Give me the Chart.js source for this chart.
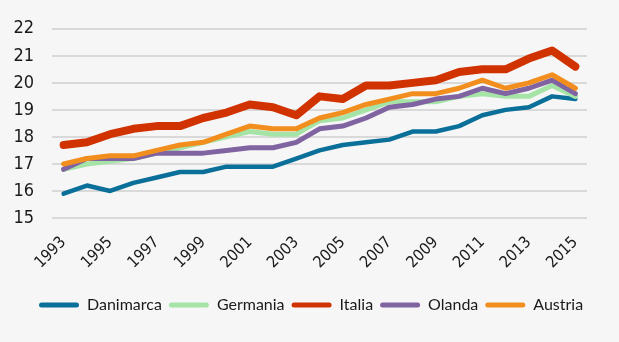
<!DOCTYPE html>
<html>
<head>
<meta charset="utf-8">
<script src="https://cdn.jsdelivr.net/npm/chart.js@4/dist/chart.umd.min.js"></script>
<style>
  html, body { margin: 0; padding: 0; background: #f6f6f6; }
  #wrap { width: 619px; height: 342px; position: relative; }
</style>
</head>
<body>
<div id="wrap"><canvas id="c" width="619" height="342"></canvas></div>
<script>
const years = ['1993','1994','1995','1996','1997','1998','1999','2000','2001','2002','2003','2004','2005','2006','2007','2008','2009','2010','2011','2012','2013','2014','2015'];
const danimarca = [15.9,16.2,16.0,16.3,16.5,16.7,16.7,16.9,16.9,16.9,17.2,17.5,17.7,17.8,17.9,18.2,18.2,18.4,18.8,19.0,19.1,19.5,19.4];
const germania  = [16.8,17.0,17.1,17.2,17.4,17.6,17.8,18.0,18.2,18.1,18.1,18.6,18.7,19.0,19.3,19.3,19.3,19.5,19.6,19.5,19.5,19.9,19.5];
const italia    = [17.7,17.8,18.1,18.3,18.4,18.4,18.7,18.9,19.2,19.1,18.8,19.5,19.4,19.9,19.9,20.0,20.1,20.4,20.5,20.5,20.9,21.2,20.6];
const olanda    = [16.8,17.2,17.2,17.2,17.4,17.4,17.4,17.5,17.6,17.6,17.8,18.3,18.4,18.7,19.1,19.2,19.4,19.5,19.8,19.6,19.8,20.1,19.6];
const austria   = [17.0,17.2,17.3,17.3,17.5,17.7,17.8,18.1,18.4,18.3,18.3,18.7,18.9,19.2,19.4,19.6,19.6,19.8,20.1,19.8,20.0,20.3,19.8];
const yTicks = [15,16,17,18,19,20,21,22];

const FONT = "'Liberation Sans Narrow', 'DejaVu Sans Condensed', sans-serif";
const LFONT = "Lato, 'Liberation Sans', sans-serif";

function ds(label, data, color, width, order) {
  return {
    label, data, borderColor: color, backgroundColor: color,
    borderWidth: width, pointRadius: 0, tension: 0, fill: false,
    borderCapStyle: 'round', borderJoinStyle: 'round', order
  };
}

const shiftLegend = {
  id: 'shiftLegend',
  afterLayout(chart) {
    const lg = chart.legend;
    if (lg) { lg.left += 18; lg.right += 18; }
  }
};

new Chart(document.getElementById('c'), {
  type: 'line',
  data: {
    labels: years,
    datasets: [
      ds('Danimarca', danimarca, '#0a6f99', 4.5, 4),
      ds('Germania', germania, '#a6e3a6', 5, 3),
      ds('Italia', italia, '#d03200', 8, 0),
      ds('Olanda', olanda, '#8064a2', 5, 2),
      ds('Austria', austria, '#f28e1e', 5, 1)
    ]
  },
  plugins: [shiftLegend],
  options: {
    responsive: false,
    animation: false,
    devicePixelRatio: 1,
    layout: { padding: { left: 14, right: 32, top: 18, bottom: 19 } },
    plugins: {
      legend: {
        position: 'bottom',
        align: 'start',
        labels: {
          font: { family: LFONT, size: 16 },
          color: '#1a1a1a',
          boxWidth: 40,
          boxHeight: 5,
          padding: 7,
          useBorderRadius: true,
          borderRadius: 2.5,
          sort: (a, b) => a.datasetIndex - b.datasetIndex,
          generateLabels: (chart) => {
            const items = Chart.defaults.plugins.legend.labels.generateLabels(chart);
            items.forEach(it => { it.lineWidth = 0; it.strokeStyle = 'rgba(0,0,0,0)'; });
            return items;
          }
        }
      },
      tooltip: { enabled: false }
    },
    scales: {
      x: {
        offset: true,
        grid: { display: false, drawTicks: false },
        border: { display: false },
        afterFit: (axis) => { axis.height = 72; axis.paddingLeft = 0; axis.paddingRight = 0; },
        ticks: {
          autoSkip: false,
          minRotation: 45,
          maxRotation: 45,
          padding: 15,
          color: '#1a1a1a',
          font: { family: FONT, size: 16 },
          callback: function(v, i) { return i % 2 === 0 ? years[i] : ''; }
        }
      },
      y: {
        min: yTicks[0],
        max: yTicks[yTicks.length - 1],
        afterBuildTicks: (axis) => { axis.ticks = yTicks.map(v => ({ value: v })); },
        afterFit: (axis) => { axis.width = 38; },
        grid: { color: '#d9d9d9', lineWidth: 2, drawTicks: false },
        border: { display: false },
        ticks: {
          padding: 18,
          color: '#1a1a1a',
          font: { family: FONT, size: 18 }
        }
      }
    }
  }
});
</script>
</body>
</html>
